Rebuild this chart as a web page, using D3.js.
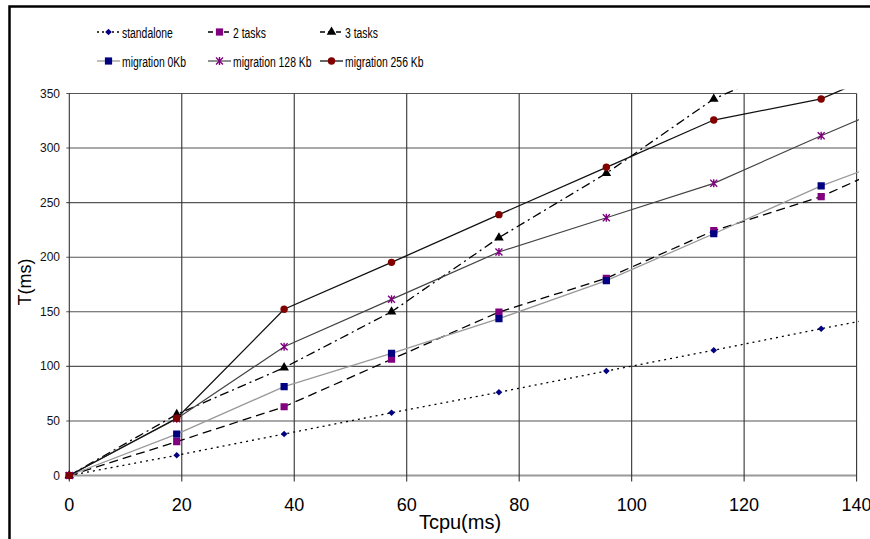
<!DOCTYPE html>
<html>
<head>
<meta charset="utf-8">
<script src="https://cdn.jsdelivr.net/npm/d3@7"></script>
<style>
  body { margin: 0; background: #fff; }
  svg { display: block; font-family: "Liberation Sans", Arial, sans-serif; }
</style>
</head>
<body>
<svg id="chart" width="870" height="539"></svg>
<script>
// Tcpu values of the measured points (ms)
var tcpu = [0, 19.1, 38.2, 57.3, 76.4, 95.5, 114.6, 133.7, 152.8];
var standalone = [0, 18.5, 38, 57.5, 76.3, 95.7, 114.8, 134.5, 153.5];
var twoTasks = [0, 31, 63, 106.5, 149.8, 180.7, 224.3, 255.5, 300];
var threeTasks = [0, 56, 98.8, 150, 217.9, 276.9, 345, 388, 432];
var migration0 = [0, 38, 81.4, 112, 143.7, 178.5, 221.5, 265.3, 302];
var migration128 = [0, 52, 118, 161.4, 204.8, 236.2, 267.7, 311.3, 353];
var migration256 = [0, 52.4, 152.3, 195.3, 239, 282.4, 325.7, 345, 388];

var seriesNames = ['standalone', '2 tasks', '3 tasks',
  'migration 0Kb', 'migration 128 Kb', 'migration 256 Kb'];
var xTicks = [0, 20, 40, 60, 80, 100, 120, 140];
var yTicks = [0, 50, 100, 150, 200, 250, 300, 350];

var svg = d3.select('#chart');

var x = d3.scaleLinear().domain([0, 140]).range([69.3, 856.6]);
var y = d3.scaleLinear().domain([0, 350]).range([475.5, 93.5]);

// Line / marker look per series
var styles = [
  {values: standalone, stroke: '#000', width: 1.3, dash: '2,4', marker: 'diamond', fill: '#000080'},
  {values: twoTasks, stroke: '#000', width: 1.3, dash: '9,5', marker: 'square', fill: '#800080'},
  {values: threeTasks, stroke: '#000', width: 1.3, dash: '9,4,2,4', marker: 'triangle', fill: '#000'},
  {values: migration0, stroke: '#999', width: 1.3, dash: null, marker: 'square', fill: '#000080'},
  {values: migration128, stroke: '#444', width: 1.2, dash: null, marker: 'star', fill: '#800080'},
  {values: migration256, stroke: '#111', width: 1.3, dash: null, marker: 'circle', fill: '#800000'}
];

// outer frame (only top/left visible)
svg.append('path')
  .attr('d', 'M9.5,539 V6.5 H870')
  .attr('fill', 'none')
  .attr('stroke', '#000')
  .attr('stroke-width', 2.5);

// gridlines
svg.append('g').selectAll('line').data(yTicks)
  .enter().append('line')
    .attr('x1', x(0) - 3).attr('x2', x(140))
    .attr('y1', function(d) { return y(d); })
    .attr('y2', function(d) { return y(d); })
    .attr('stroke', function(d) { return d === 0 ? '#999' : '#555'; })
    .attr('stroke-width', function(d) { return d === 0 ? 2 : 1.1; });

svg.append('g').selectAll('line').data(xTicks)
  .enter().append('line')
    .attr('x1', function(d) { return x(d); })
    .attr('x2', function(d) { return x(d); })
    .attr('y1', y(350)).attr('y2', y(0) + 6)
    .attr('stroke', '#333')
    .attr('stroke-width', 1.1);

// tick labels
svg.append('g').selectAll('text').data(yTicks)
  .enter().append('text')
    .attr('x', 60)
    .attr('y', function(d) { return y(d) + 4; })
    .attr('text-anchor', 'end')
    .attr('font-size', 12)
    .attr('fill', '#111')
    .text(function(d) { return d; });

svg.append('g').selectAll('text').data(xTicks)
  .enter().append('text')
    .attr('x', function(d) { return x(d); })
    .attr('y', 511)
    .attr('text-anchor', 'middle')
    .attr('font-size', 18)
    .attr('fill', '#000')
    .text(function(d) { return d; });

// axis titles
svg.append('text')
  .attr('x', 460).attr('y', 529)
  .attr('text-anchor', 'middle')
  .attr('font-size', 20)
  .text('Tcpu(ms)');

svg.append('text')
  .attr('transform', 'translate(31,282) rotate(-90)')
  .attr('text-anchor', 'middle')
  .attr('font-size', 18)
  .text('T(ms)');

function drawMarker(g, s, px, py) {
  if (s.marker === 'circle') {
    g.append('circle').attr('cx', px).attr('cy', py).attr('r', 3.7)
      .attr('fill', s.fill);
  } else if (s.marker === 'star') {
    var r = 3.5;
    g.append('path')
      .attr('d', 'M' + (px - r) + ',' + (py - r) + 'L' + (px + r) + ',' + (py + r) +
        'M' + (px + r) + ',' + (py - r) + 'L' + (px - r) + ',' + (py + r) +
        'M' + px + ',' + (py - r - 0.5) + 'V' + (py + r + 0.5))
      .attr('stroke', s.fill)
      .attr('stroke-width', 1.4)
      .attr('fill', 'none');
  } else if (s.marker === 'diamond') {
    g.append('path')
      .attr('transform', 'translate(' + px + ',' + py + ') rotate(45)')
      .attr('d', d3.symbol().type(d3.symbolSquare).size(22)())
      .attr('fill', s.fill);
  } else {
    var type = s.marker === 'square' ? d3.symbolSquare : d3.symbolTriangle;
    var size = s.marker === 'square' ? 52 : 40;
    g.append('path')
      .attr('transform', 'translate(' + px + ',' + py + ')')
      .attr('d', d3.symbol().type(type).size(size)())
      .attr('fill', s.fill);
  }
}

// series, clipped a bit past the plot area like the original
svg.append('clipPath').attr('id', 'plotClip')
  .append('rect').attr('x', 60).attr('y', 89.5).attr('width', 799).attr('height', 395);

var plot = svg.append('g').attr('clip-path', 'url(#plotClip)');
var line = d3.line()
  .x(function(d, i) { return x(tcpu[i]); })
  .y(function(d) { return y(d); });

styles.forEach(function(s) {
  plot.append('path')
    .attr('d', line(s.values))
    .attr('fill', 'none')
    .attr('stroke', s.stroke)
    .attr('stroke-width', s.width)
    .attr('stroke-dasharray', s.dash);
});
styles.forEach(function(s) {
  var g = plot.append('g');
  s.values.forEach(function(v, i) {
    if (tcpu[i] <= 140 && v <= 350) drawMarker(g, s, x(tcpu[i]), y(v));
  });
});

// legend: two rows of three
var legendX = [97, 208, 320];
var legendY = [32, 61];
seriesNames.forEach(function(name, i) {
  var s = styles[i];
  var lx = legendX[i % 3];
  var ly = legendY[Math.floor(i / 3)];
  var g = svg.append('g');
  g.append('line')
    .attr('x1', lx).attr('x2', lx + 23)
    .attr('y1', ly).attr('y2', ly)
    .attr('stroke', s.stroke)
    .attr('stroke-width', s.width)
    .attr('stroke-dasharray', s.dash ? (s.marker === 'diamond' ? '2,3' : '5,3') : null);
  drawMarker(g, s, lx + 11.5, ly);
  g.append('text')
    .attr('transform', 'translate(' + (lx + 25) + ',' + (ly + 5.5) + ') scale(0.67,1)')
    .attr('font-size', 15.5)
    .text(name);
});
</script>
</body>
</html>
